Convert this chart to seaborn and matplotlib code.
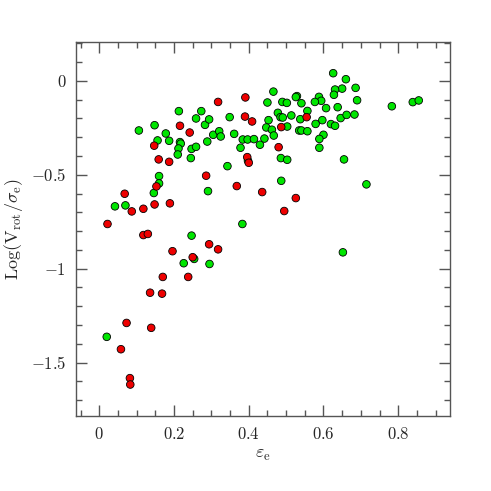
import matplotlib
matplotlib.use("Agg")
import matplotlib.pyplot as plt
from matplotlib.ticker import MultipleLocator, FuncFormatter
import seaborn as sns
import pandas as pd

# ellipticity and log(Vrot/sigma)
green_eps = [0.106, 0.148, 0.156, 0.213, 0.178, 0.187, 0.216, 0.218, 0.212, 0.210,
             0.245, 0.247, 0.259, 0.259, 0.273, 0.283, 0.294, 0.289, 0.305, 0.321,
             0.325, 0.349, 0.361, 0.384, 0.397, 0.414, 0.430, 0.378, 0.398, 0.343,
             0.160, 0.160, 0.146, 0.070, 0.042, 0.291, 0.383, 0.626, 0.660, 0.686,
             0.650, 0.631, 0.628, 0.690, 0.466, 0.529, 0.526, 0.588, 0.594, 0.577,
             0.541, 0.490, 0.502, 0.450, 0.607, 0.638, 0.783, 0.839, 0.855, 0.557,
             0.478, 0.485, 0.491, 0.514, 0.538, 0.597, 0.579, 0.620, 0.631, 0.646,
             0.662, 0.683, 0.453, 0.447, 0.462, 0.503, 0.467, 0.535, 0.541, 0.557,
             0.600, 0.589, 0.589, 0.442, 0.486, 0.503, 0.655, 0.487, 0.715, 0.247,
             0.226, 0.254, 0.295, 0.020, 0.652]
green_logv = [-0.264, -0.236, -0.317, -0.161, -0.280, -0.319, -0.326, -0.334, -0.360, -0.392,
              -0.411, -0.362, -0.351, -0.200, -0.161, -0.234, -0.205, -0.323, -0.287, -0.268,
              -0.296, -0.193, -0.282, -0.312, -0.312, -0.310, -0.340, -0.356, -0.425, -0.454,
              -0.507, -0.546, -0.597, -0.663, -0.668, -0.587, -0.762, 0.041, 0.009, -0.037,
              -0.041, -0.046, -0.074, -0.103, -0.057, -0.081, -0.086, -0.085, -0.106, -0.112,
              -0.119, -0.112, -0.117, -0.115, -0.145, -0.140, -0.135, -0.113, -0.104, -0.160,
              -0.170, -0.193, -0.195, -0.184, -0.204, -0.209, -0.229, -0.230, -0.239, -0.198,
              -0.181, -0.179, -0.209, -0.248, -0.260, -0.243, -0.291, -0.264, -0.264, -0.268,
              -0.287, -0.309, -0.356, -0.307, -0.411, -0.420, -0.418, -0.532, -0.551, -0.824,
              -0.971, -0.948, -0.975, -1.363, -0.913]

red_eps = [0.318, 0.391, 0.390, 0.409, 0.216, 0.242, 0.147, 0.159, 0.187, 0.396,
           0.400, 0.286, 0.153, 0.068, 0.087, 0.118, 0.148, 0.189, 0.368, 0.022,
           0.555, 0.487, 0.480, 0.436, 0.526, 0.495, 0.118, 0.130, 0.294, 0.318,
           0.196, 0.250, 0.170, 0.238, 0.136, 0.168, 0.073, 0.139, 0.058, 0.082,
           0.083]
red_logv = [-0.112, -0.088, -0.190, -0.216, -0.239, -0.275, -0.345, -0.418, -0.431, -0.406,
            -0.436, -0.505, -0.562, -0.601, -0.695, -0.681, -0.658, -0.652, -0.560, -0.762,
            -0.193, -0.246, -0.353, -0.592, -0.624, -0.693, -0.821, -0.815, -0.870, -0.897,
            -0.907, -0.939, -1.044, -1.044, -1.128, -1.133, -1.289, -1.315, -1.429, -1.583,
            -1.617]

df = pd.concat([
    pd.DataFrame({"eps": green_eps, "logv": green_logv, "group": "green"}),
    pd.DataFrame({"eps": red_eps, "logv": red_logv, "group": "red"}),
], ignore_index=True)

sns.set_style("ticks")
plt.rcParams["font.family"] = ["DejaVu Serif"]
plt.rcParams["mathtext.fontset"] = "cm"

fig = plt.figure(figsize=(4.91, 4.91), dpi=100)
ax = fig.add_axes([0.155, 0.153, 0.761, 0.761])

sns.scatterplot(data=df, x="eps", y="logv", hue="group",
                palette={"green": "#00e600", "red": "#ee0000"},
                s=30, edgecolor="black", linewidth=0.6, legend=False, ax=ax)

ax.set_xlim(-0.062, 0.938)
ax.set_ylim(-1.784, 0.206)

ax.xaxis.set_major_locator(MultipleLocator(0.2))
ax.xaxis.set_minor_locator(MultipleLocator(0.05))
ax.yaxis.set_major_locator(MultipleLocator(0.5))
ax.yaxis.set_minor_locator(MultipleLocator(0.1))
fmt = FuncFormatter(lambda v, p: "$%g$" % round(v, 2))
ax.xaxis.set_major_formatter(fmt)
ax.yaxis.set_major_formatter(fmt)

ax.tick_params(which="both", direction="in", top=True, right=True,
               color="#555555", labelsize=12, pad=7)
ax.tick_params(which="major", length=8, width=1)
ax.tick_params(which="minor", length=4, width=1)
for sp in ax.spines.values():
    sp.set_color("#555555")
    sp.set_linewidth(1.0)

ax.set_xlabel(r"$\varepsilon_{\rm e}$", fontsize=13, labelpad=2)
ax.set_ylabel(r"$\mathrm{Log}(\mathrm{V}_{\rm rot}/\sigma_{\rm e})$", fontsize=13, labelpad=4)

fig.savefig("out.png", dpi=100)
